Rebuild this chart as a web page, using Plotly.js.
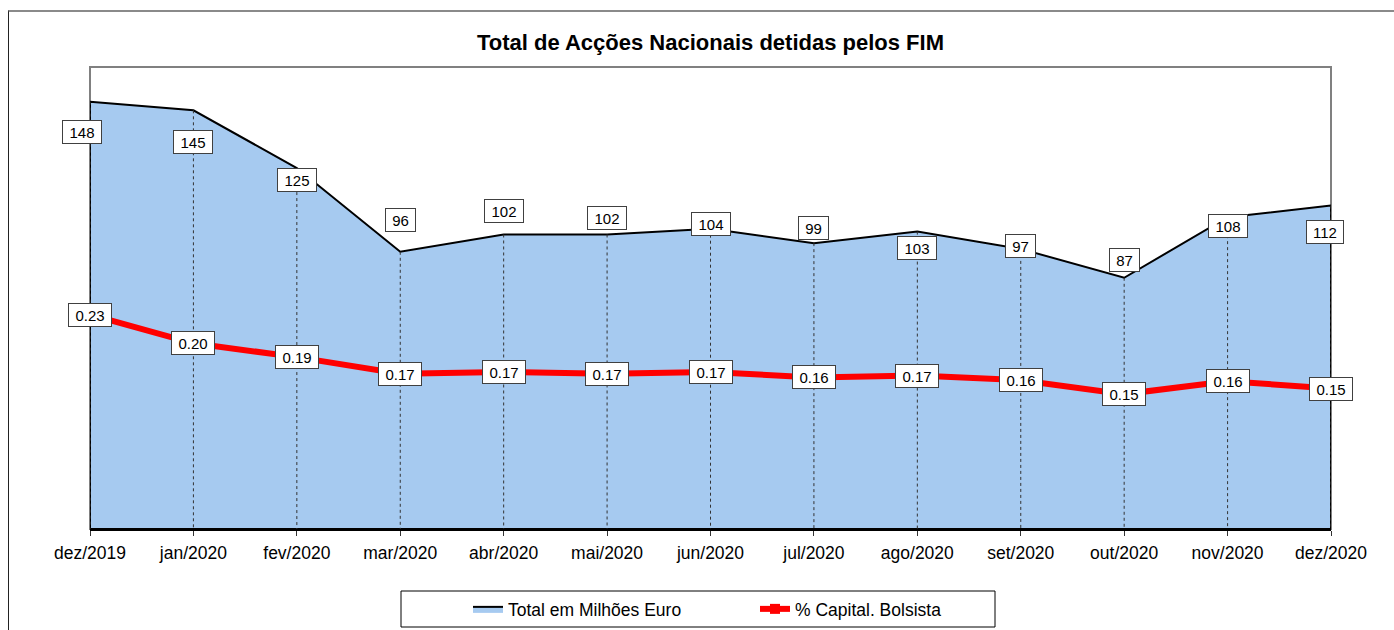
<!DOCTYPE html>
<html><head><meta charset="utf-8">
<script src="https://cdn.plot.ly/plotly-3.0.1.min.js"></script>
<style>
html,body{margin:0;padding:0;background:#fff;overflow:hidden;width:1394px;height:630px;}
#chart{width:1394px;height:630px;position:absolute;left:0;top:0;}
#frame{position:absolute;left:8px;top:10px;width:1500px;height:800px;border-top:2px solid #8a8a8a;border-left:1px solid #222;pointer-events:none;}
</style></head><body>
<div id="chart"></div><div id="frame"></div>
<script>
const chartTitle = 'Total de Acções Nacionais detidas pelos FIM';
const months = ['dez/2019','jan/2020','fev/2020','mar/2020','abr/2020','mai/2020','jun/2020','jul/2020','ago/2020','set/2020','out/2020','nov/2020','dez/2020'];
const totalMilhoes = [148,145,125,96,102,102,104,99,103,97,87,108,112];
const pctCapital = [0.232,0.201,0.186,0.168,0.170,0.168,0.170,0.164,0.166,0.161,0.146,0.160,0.152];
const seriesNames = ['Total em Milhões Euro','% Capital. Bolsista'];
// label offsets (px) of the total labels relative to their points
const totalLabelDx = [-8,0,0,0,0,0,0,0,0,0,0,0,-6];
const totalLabelDy = [-30,-32,-12,32,23,16,5,15,-16,3,18,-9,-26];

const FONT = 'Liberation Sans, Arial, sans-serif';
const cv = document.createElement('canvas').getContext('2d');
cv.font = "15px 'Liberation Sans'";
function tw(s){ return Math.ceil(cv.measureText(s).width); }

const n = months.length;
const areaTrace = {
  x: months.concat([months[n-1], months[0], months[0]]),
  y: totalMilhoes.concat([0, 0, totalMilhoes[0]]),
  type:'scatter', mode:'lines', fill:'toself', fillcolor:'#A6CAF0',
  line:{color:'#000', width:2}, name:seriesNames[0], yaxis:'y', hoverinfo:'skip'
};
const dropX = [], dropY = [];
months.forEach((m,i)=>{ dropX.push(m,m,null); dropY.push(totalMilhoes[i],0,null); });
const dropTrace = {x:dropX, y:dropY, type:'scatter', mode:'lines', line:{color:'#333', width:1, dash:'dot'}, showlegend:false, hoverinfo:'skip', yaxis:'y'};
const pctTrace = {
  x: months, y: pctCapital, type:'scatter', mode:'lines+markers', yaxis:'y2',
  line:{color:'#FF0000', width:6}, marker:{symbol:'square', size:10, color:'#FF0000'},
  name:seriesNames[1]
};

const annotations = [];
months.forEach((m,i)=>{
  const t = String(totalMilhoes[i]);
  annotations.push({x:m, y:totalMilhoes[i], xref:'x', yref:'y', text:t, showarrow:false,
    xshift:totalLabelDx[i], yshift:totalLabelDy[i], bgcolor:'#fff', bordercolor:'#404040', borderwidth:1, borderpad:2,
    width:tw(t)+8, height:18, font:{family:FONT, size:15, color:'#000'}});
  const p = pctCapital[i].toFixed(2);
  annotations.push({x:m, y:pctCapital[i], xref:'x', yref:'y2', text:p, showarrow:false,
    bgcolor:'#fff', bordercolor:'#404040', borderwidth:1, borderpad:2,
    width:tw(p)+8, height:18, font:{family:FONT, size:15, color:'#000'}});
});

const layout = {
  width:1394, height:630,
  margin:{l:90, r:63, t:67, b:101, autoexpand:false},
  paper_bgcolor:'rgba(0,0,0,0)', plot_bgcolor:'#fff',
  font:{family:FONT, color:'#000'},
  title:{text:'<b>'+chartTitle+'</b>', font:{family:FONT, size:22, color:'#000'}, x:0.5, xref:'paper', xanchor:'center', y:1-42/630, yref:'container', yanchor:'middle'},
  xaxis:{type:'category', range:[0, n-1], showgrid:false, zeroline:false, showline:true, linecolor:'#000', linewidth:2,
    ticks:'outside', ticklen:5, tickcolor:'#333', tickwidth:1, tickfont:{family:FONT, size:17.5, color:'#000'}, ticklabelstandoff:2, fixedrange:true},
  yaxis:{range:[0,160], showgrid:false, zeroline:false, showticklabels:false, showline:false, ticks:'', fixedrange:true},
  yaxis2:{range:[0,0.5], overlaying:'y', side:'right', showgrid:false, zeroline:false, showticklabels:false, showline:false, ticks:'', fixedrange:true},
  shapes:[
    {type:'rect', xref:'paper', yref:'paper', x0:0, x1:1, y0:0, y1:1, line:{color:'#808080', width:2}, layer:'below'},
    {type:'rect', xref:'paper', yref:'paper', x0:(401-90)/1241, x1:(995-90)/1241, y0:(529-627)/462, y1:(529-591)/462, line:{color:'#000', width:1}, fillcolor:'rgba(0,0,0,0)', layer:'above'}
  ],
  legend:{orientation:'h', x:(468-90)/1241, xanchor:'left', y:(529-609)/462, yanchor:'middle', bgcolor:'rgba(0,0,0,0)', borderwidth:0,
    font:{family:FONT, size:17.5, color:'#000'}, entrywidth:242, entrywidthmode:'pixels', itemclick:false, itemdoubleclick:false},
  annotations: annotations,
  showlegend:true, hovermode:false
};
Plotly.newPlot('chart', [areaTrace, dropTrace, pctTrace], layout, {displayModeBar:false, staticPlot:true});
</script></body></html>
